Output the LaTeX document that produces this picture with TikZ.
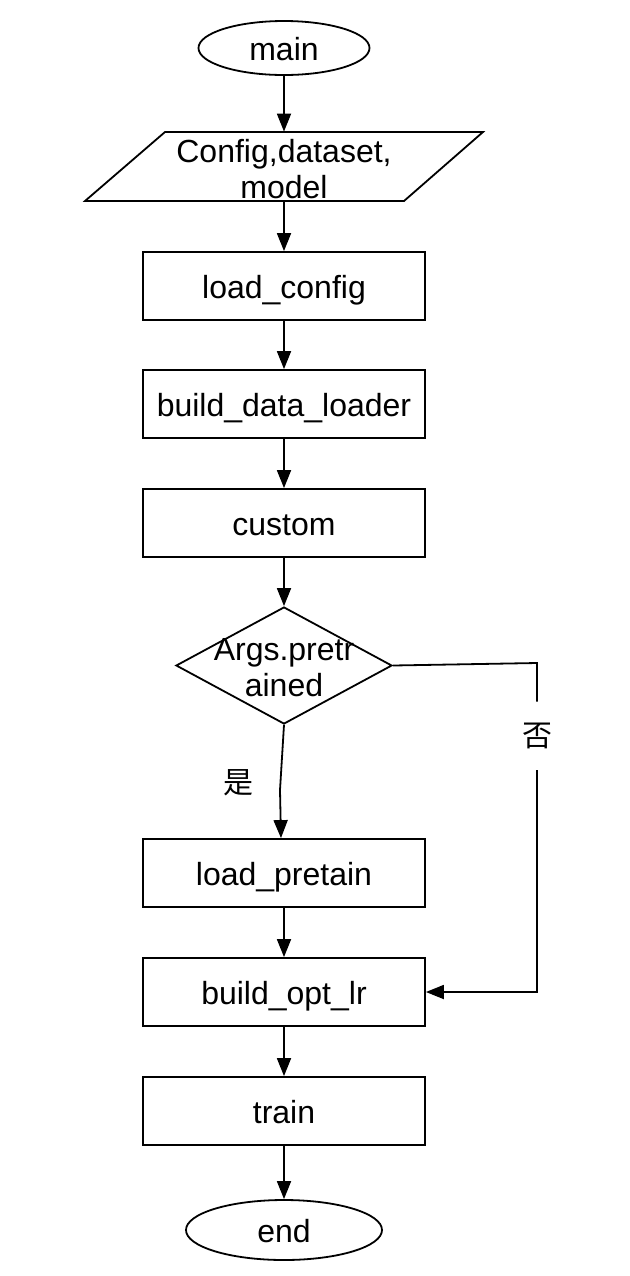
\documentclass[tikz,border=0pt]{standalone}
\usepackage{fontspec}
\setmainfont{Liberation Sans}
\newfontfamily\cjk{Noto Sans CJK SC}
\usetikzlibrary{shapes.geometric,arrows.meta,calc}
\begin{document}
\begin{tikzpicture}[x=0.5pt,y=-0.5pt,
  font=\fontsize{16}{18}\selectfont,
  every node/.style={inner sep=0pt},
  lw/.style={line width=0.9pt},
  onetext/.style={text height=12.5pt,text depth=0pt},
  term/.style={lw,draw,ellipse,onetext},
  procbox/.style={lw,draw,rectangle,minimum width=141pt,minimum height=34pt,onetext},
  conn/.style={lw},
  arr/.style={lw,-{Triangle[length=9pt,width=7pt]}},
  cjklabel/.style={font=\cjk\fontsize{15}{18}\selectfont}]
\useasboundingbox (0,0) rectangle (630,1276);
% start
\node[term,minimum width=85.5pt,minimum height=27pt] (main) at (284,48) {main};
% input parallelogram
\draw[lw] (165,132) -- (483,132) -- (404,201) -- (85,201) -- cycle;
\node[minimum height=34.5pt,minimum width=10pt] (cfg) at (284,166.5) {};
\node[align=center] (cfgtext) at (284,169) {Config,dataset,\\model};
% processes
\node[procbox] (lc) at (284,286) {load\_config};
\node[procbox] (bdl) at (284,404) {build\_data\_loader};
\node[procbox] (cus) at (284,523) {custom};
% decision
\node[lw,draw,diamond,minimum width=108pt,minimum height=58.5pt] (dia) at (284,665.5) {};
\node[align=center] (diatext) at (284,668) {Args.pretr\\ained};
\node[procbox] (lp) at (284,873) {load\_pretain};
\node[procbox] (bol) at (284,992) {build\_opt\_lr};
\node[procbox] (tr) at (284,1111) {train};
\node[term,minimum width=98pt,minimum height=30pt] (end) at (284,1230) {end};
% labels
\node[cjklabel] (yes) at (238,783) {是};
\node[cjklabel,minimum height=34pt] (no) at (537,736) {否};
% connectors
\draw[arr] (main) -- (cfg);
\draw[arr] (cfg) -- (lc);
\draw[arr] (lc) -- (bdl);
\draw[arr] (bdl) -- (cus);
\draw[arr] (cus) -- (dia);
\coordinate (ybend) at (280,790);
\draw[arr] (dia.south) -- (ybend) -- ($(lp.north)+(-3,0)$);
\draw[arr] (lp) -- (bol);
\draw[arr] (bol) -- (tr);
\draw[arr] (tr) -- (end);
\coordinate (nc1) at (537,663);
\coordinate (nc2) at (537,992);
\draw[conn] (dia.east) -- (nc1) -- (no.north);
\draw[arr] (no.south) -- (nc2) -- (bol.east);
\end{tikzpicture}
\end{document}
